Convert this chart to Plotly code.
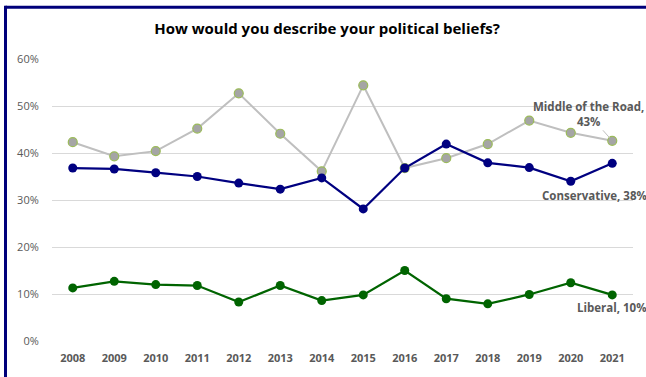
import plotly.graph_objects as go

years = [2008, 2009, 2010, 2011, 2012, 2013, 2014,
         2015, 2016, 2017, 2018, 2019, 2020, 2021]

middle_of_road = [42.3, 39.3, 40.4, 45.2, 52.7, 44.1, 36.1,
                  54.4, 36.8, 38.9, 41.9, 46.9, 44.3, 42.6]
conservative = [36.8, 36.6, 35.8, 35.0, 33.6, 32.3, 34.7,
                28.1, 36.8, 41.9, 37.9, 36.9, 34.0, 37.8]
liberal = [11.3, 12.7, 12.0, 11.8, 8.3, 11.8, 8.6,
           9.8, 15.0, 9.0, 7.9, 9.9, 12.4, 9.8]

y_ticks = [0, 10, 20, 30, 40, 50, 60]
y_tick_text = [f"{v}%" for v in y_ticks]

FONT = "Open Sans"
LABEL_GRAY = "#595959"

fig = go.Figure()

fig.add_trace(go.Scatter(
    x=years, y=middle_of_road, mode="lines+markers", name="Middle of the Road",
    line=dict(color="#bfbfbf", width=2),
    marker=dict(size=9, color="#a5a5a5", line=dict(color="#9bbb59", width=1.2)),
))
fig.add_trace(go.Scatter(
    x=years, y=conservative, mode="lines+markers", name="Conservative",
    line=dict(color="#000080", width=2.25),
    marker=dict(size=9, color="#000080"),
))
fig.add_trace(go.Scatter(
    x=years, y=liberal, mode="lines+markers", name="Liberal",
    line=dict(color="#006400", width=2.25),
    marker=dict(size=9, color="#006400"),
))

label_font = dict(family=FONT, size=11.5, color=LABEL_GRAY, weight="bold")

fig.add_annotation(
    x=years[-1], y=middle_of_road[-1],
    text=f"Middle of the Road,<br>{round(middle_of_road[-1])}%",
    showarrow=True, arrowhead=0, arrowwidth=1, arrowcolor="#bfbfbf",
    ax=-24, ay=-27, standoff=4, font=label_font, align="center",
)
fig.add_annotation(
    x=years[-1], y=conservative[-1],
    text=f"Conservative, {round(conservative[-1])}%",
    showarrow=False, xshift=-18, yshift=-32, font=label_font,
)
fig.add_annotation(
    x=years[-1], y=liberal[-1],
    text=f"Liberal, {round(liberal[-1])}%",
    showarrow=False, xshift=0, yshift=-13, font=label_font,
)

# frame lines along the top and left edges
L, R, T, B = 52, 13, 58.5, 33
pw, ph = 646 - L - R, 377 - T - B
def px_x(p):
    return (p - L) / pw
def px_y(p):
    return (377 - B - p) / ph

fig.add_shape(type="line", xref="paper", yref="paper",
              x0=px_x(5.5), x1=px_x(660), y0=px_y(6), y1=px_y(6),
              line=dict(color="#00007a", width=3))
fig.add_shape(type="line", xref="paper", yref="paper",
              x0=px_x(5.5), x1=px_x(5.5), y0=px_y(4.5), y1=px_y(390),
              line=dict(color="#00007a", width=3))

fig.update_layout(
    width=646, height=377,
    margin=dict(l=L, r=R, t=T, b=B),
    paper_bgcolor="white", plot_bgcolor="white",
    showlegend=False,
    title=dict(text="<b>How would you describe your political beliefs?</b>",
               x=327 / 646, xref="container", xanchor="center",
               y=1 - 29 / 377, yref="container", yanchor="middle",
               font=dict(family=FONT, size=15, color="#000000")),
    xaxis=dict(range=[years[0] - 0.5, years[-1] + 0.5],
               tickvals=years, ticktext=[str(y) for y in years],
               showgrid=False, showline=False, zeroline=False,
               ticks="outside", ticklen=7, tickcolor="rgba(0,0,0,0)",
               tickfont=dict(family=FONT, size=11, color=LABEL_GRAY, weight="bold")),
    yaxis=dict(range=[0, 60], tickvals=y_ticks, ticktext=y_tick_text,
               showgrid=True, gridcolor="#d9d9d9", gridwidth=1,
               zeroline=False, showline=False,
               ticks="outside", ticklen=10, tickcolor="rgba(0,0,0,0)",
               tickfont=dict(family=FONT, size=11, color=LABEL_GRAY)),
)

fig.write_html("out.html")
